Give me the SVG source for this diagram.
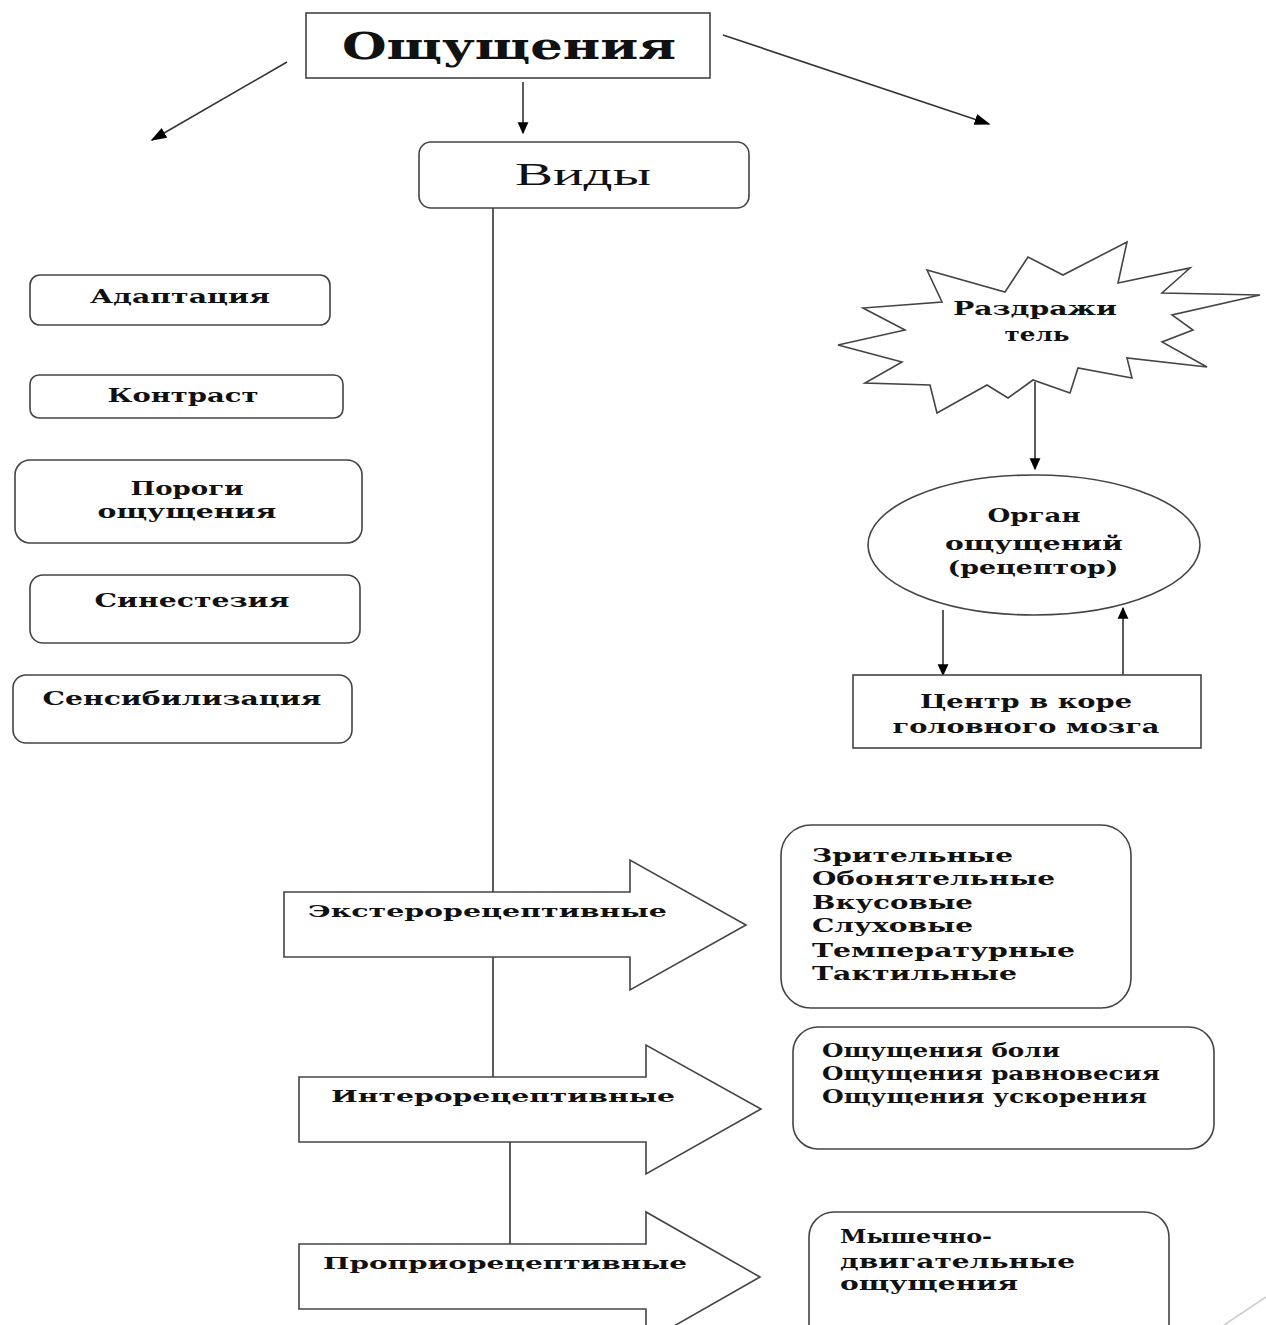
<svg xmlns="http://www.w3.org/2000/svg" width="1266" height="1325" viewBox="0 0 1266 1325">
<style>
.box{fill:#fff;stroke:#444;stroke-width:1.6}
.ln{stroke:#333;stroke-width:1.6;fill:none}
.t{font-family:"DejaVu Serif","Liberation Serif",serif;font-weight:bold;font-size:18px;fill:#111}
.tc{text-anchor:middle}
.big{font-size:38px}
.s17{font-size:17px}
</style>
<defs>
<marker id="ah" viewBox="0 0 10 10" refX="9" refY="5" markerWidth="12" markerHeight="12" markerUnits="userSpaceOnUse" orient="auto">
<path d="M0,0.5 L10,5 L0,9.5 z" fill="#000"/>
</marker>
<marker id="ah2" viewBox="0 0 10 10" refX="9" refY="5" markerWidth="16" markerHeight="16" markerUnits="userSpaceOnUse" orient="auto">
<path d="M0,1.5 L10,5 L0,8.5 z" fill="#000"/>
</marker>
</defs>

<g id="connectors">
<line class="ln" x1="287" y1="62" x2="152" y2="140" marker-end="url(#ah2)"/>
<line class="ln" x1="523" y1="82" x2="523" y2="133" marker-end="url(#ah)"/>
<line class="ln" x1="723" y1="35" x2="989" y2="124" marker-end="url(#ah2)"/>
<line class="ln" x1="493" y1="208" x2="493" y2="892"/>
<line class="ln" x1="493" y1="957" x2="493" y2="1077"/>
<line class="ln" x1="510" y1="1142" x2="510" y2="1244"/>
<line class="ln" x1="1035" y1="382" x2="1035" y2="469" marker-end="url(#ah)"/>
<line class="ln" x1="943" y1="610" x2="943" y2="675" marker-end="url(#ah)"/>
<line class="ln" x1="1123" y1="675" x2="1123" y2="608" marker-end="url(#ah)"/>
<line x1="1224" y1="1325" x2="1266" y2="1297" stroke="#ccc" stroke-width="1.6"/>
</g>

<g id="title">
<rect class="box" x="306" y="13" width="404" height="65" stroke-width="2"/>
<text class="t tc big" x="509" y="59" textLength="334" lengthAdjust="spacingAndGlyphs">Ощущения</text>
</g>

<g id="vidy">
<rect class="box" x="419" y="142" width="330" height="66" rx="12"/>
<text x="583" y="185" text-anchor="middle" font-family="Liberation Serif,serif" font-size="32" fill="#111" textLength="136" lengthAdjust="spacingAndGlyphs">Виды</text>
</g>

<g id="adaptacia">
<rect class="box" x="30" y="275" width="300" height="50" rx="10"/>
<text class="t tc" x="180" y="303" textLength="180" lengthAdjust="spacingAndGlyphs">Адаптация</text>
</g>
<g id="kontrast">
<rect class="box" x="30" y="375" width="313" height="43" rx="9"/>
<text class="t tc" x="183" y="402" textLength="151" lengthAdjust="spacingAndGlyphs">Контраст</text>
</g>
<g id="porogi">
<rect class="box" x="15" y="460" width="347" height="83" rx="15"/>
<text class="t tc" x="187" y="495" textLength="113" lengthAdjust="spacingAndGlyphs">Пороги</text>
<text class="t tc" x="187" y="518" textLength="179" lengthAdjust="spacingAndGlyphs">ощущения</text>
</g>
<g id="sinestezia">
<rect class="box" x="30" y="575" width="330" height="68" rx="13"/>
<text class="t tc" x="192" y="607" textLength="195" lengthAdjust="spacingAndGlyphs">Синестезия</text>
</g>
<g id="sensibil">
<rect class="box" x="13" y="675" width="339" height="68" rx="13"/>
<text class="t tc" x="182" y="705" textLength="279" lengthAdjust="spacingAndGlyphs">Сенсибилизация</text>
</g>

<g id="razdrazhitel">
<polygon class="box" points="838,345 905,330 863,308 942,302 927,270 1005,292 1028,257 1063,275 1127,242 1118,283 1190,268 1162,293 1260,295 1172,315 1193,330 1162,342 1207,367 1127,358 1132,378 1078,368 1070,393 1033,380 1008,398 987,385 937,413 930,385 865,383 902,362"/>
<text class="t tc" x="1035" y="315" textLength="164" lengthAdjust="spacingAndGlyphs">Раздражи</text>
<text class="t tc" x="1037" y="341" textLength="65" lengthAdjust="spacingAndGlyphs">тель</text>
</g>

<g id="organ">
<ellipse class="box" cx="1034" cy="545" rx="166" ry="70"/>
<text class="t tc" x="1034" y="522" textLength="93" lengthAdjust="spacingAndGlyphs">Орган</text>
<text class="t tc" x="1034" y="550" textLength="178" lengthAdjust="spacingAndGlyphs">ощущений</text>
<text class="t tc" x="1033" y="574" textLength="171" lengthAdjust="spacingAndGlyphs">(рецептор)</text>
</g>

<g id="centr">
<rect class="box" x="853" y="675" width="348" height="73"/>
<text class="t tc" x="1026" y="708" textLength="212" lengthAdjust="spacingAndGlyphs">Центр в коре</text>
<text class="t tc" x="1026" y="733" textLength="267" lengthAdjust="spacingAndGlyphs">головного мозга</text>
</g>

<g id="extero">
<polygon class="box" points="284,892 630,892 630,860 746,925 630,990 630,957 284,957"/>
<text class="t s17" x="308" y="917" textLength="359" lengthAdjust="spacingAndGlyphs">Экстерорецептивные</text>
</g>
<g id="intero">
<polygon class="box" points="299,1077 646,1077 646,1045 761,1109 646,1174 646,1142 299,1142"/>
<text class="t s17" x="331" y="1102" textLength="344" lengthAdjust="spacingAndGlyphs">Интерорецептивные</text>
</g>
<g id="proprio">
<polygon class="box" points="299,1244 646,1244 646,1212 760,1277 646,1342 646,1309 299,1309"/>
<text class="t s17" x="323" y="1269" textLength="364" lengthAdjust="spacingAndGlyphs">Проприорецептивные</text>
</g>

<g id="extero-list">
<rect class="box" x="781" y="825" width="350" height="183" rx="30"/>
<text class="t" x="812" y="862" textLength="201" lengthAdjust="spacingAndGlyphs">Зрительные</text>
<text class="t" x="812" y="885" textLength="243" lengthAdjust="spacingAndGlyphs">Обонятельные</text>
<text class="t" x="812" y="909" textLength="161" lengthAdjust="spacingAndGlyphs">Вкусовые</text>
<text class="t" x="812" y="932" textLength="161" lengthAdjust="spacingAndGlyphs">Слуховые</text>
<text class="t" x="812" y="957" textLength="263" lengthAdjust="spacingAndGlyphs">Температурные</text>
<text class="t" x="812" y="980" textLength="205" lengthAdjust="spacingAndGlyphs">Тактильные</text>
</g>

<g id="intero-list">
<rect class="box" x="793" y="1027" width="421" height="122" rx="25"/>
<text class="t" x="822" y="1057" textLength="238" lengthAdjust="spacingAndGlyphs">Ощущения боли</text>
<text class="t" x="822" y="1080" textLength="338" lengthAdjust="spacingAndGlyphs">Ощущения равновесия</text>
<text class="t" x="822" y="1103" textLength="325" lengthAdjust="spacingAndGlyphs">Ощущения ускорения</text>
</g>

<g id="proprio-list">
<rect class="box" x="809" y="1212" width="360" height="140" rx="25"/>
<text class="t" x="840" y="1243" textLength="152" lengthAdjust="spacingAndGlyphs">Мышечно-</text>
<text class="t" x="840" y="1268" textLength="235" lengthAdjust="spacingAndGlyphs">двигательные</text>
<text class="t" x="840" y="1290" textLength="178" lengthAdjust="spacingAndGlyphs">ощущения</text>
</g>
</svg>
